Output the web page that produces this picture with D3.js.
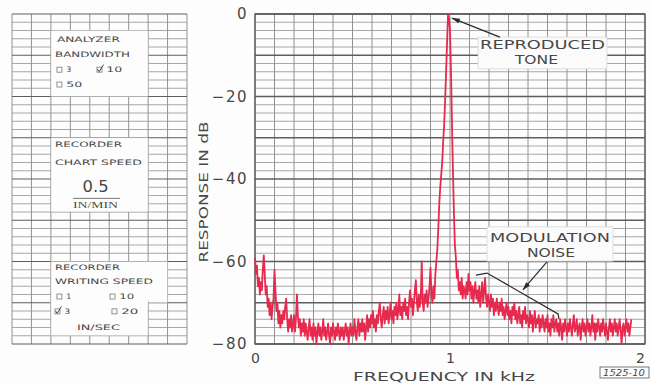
<!DOCTYPE html>
<html><head><meta charset="utf-8">
<script src="https://cdn.jsdelivr.net/npm/d3@7"></script>
<style>
body{margin:0;background:#fff;}
text{font-family:"DejaVu Sans","Liberation Sans",sans-serif;fill:#474747;}
</style>
</head><body>
<svg id="c" width="651" height="384"></svg>
<script>
// ---------------- data ----------------
const stepKHz = 0.005;             // sample spacing of the recorded trace (kHz)
const responseDb = [
 -59,-63,-61,-66,-64,-68,-65,-67,-62,-58.5,
 -63,-68,-66,-71,-69,-73,-70,-74,-71,-69,
 -62,-67,-72,-70,-75,-72,-76,-73,-75,-72,
 -74,-71,-69,-74,-77,-74,-76,-73,-77,-75,
 -73,-77,-74,-68,-73,-76,-74,-78,-75,-77,
 -74,-78,-75,-77,-79,-76,-74,-78,-76,-79,
 -75,-78,-76,-80,-77,-75,-78,-76,-79,-77,
 -74,-78,-76,-79,-77,-75,-78,-80,-76,-78,
 -75,-77,-79,-76,-78,-75,-77,-79,-76,-78,
 -76,-79,-77,-75,-78,-76,-80,-77,-75,-78,
 -76,-78,-74,-77,-79,-76,-74,-78,-75,-77,
 -74,-77,-75,-79,-76,-73,-77,-74,-76,-73,
 -75,-72,-76,-74,-77,-73,-75,-72,-70,-74,
 -76,-73,-71,-75,-72,-74,-71,-75,-73,-70,
 -74,-72,-75,-71,-73,-70,-74,-72,-68,-73,
 -71,-74,-70,-72,-69,-73,-71,-74,-70,-67,
 -71,-69,-73,-70,-67,-64.5,-70,-72,-68,-71,
 -69,-60,-70,-72,-68,-70,-67,-71,-69,-66,
 -61.5,-68,-70,-66,-69,-63,-60,-57,-52,-46,
 -42,-39,-36,-31,-27,-21,-14,-7,0,-1,
 -4,-14,-26,-38,-48,-56,-59,-64,-62,-67,
 -65,-68,-64,-69,-66,-67,-69,-65,-68,-63,
 -67,-65,-69,-66,-70,-67,-65,-69,-67,-70,
 -66,-71,-68,-65,-70,-67,-64,-69,-71,-68,
 -70,-72,-68,-71,-69,-73,-70,-72,-69,-71,
 -73,-70,-72,-69,-73,-71,-74,-72,-70,-73,
 -71,-74,-72,-75,-71,-73,-70,-74,-72,-75,
 -73,-71,-75,-73,-76,-72,-74,-71,-75,-73,
 -74,-76,-72,-75,-73,-77,-74,-72,-76,-74,
 -75,-73,-77,-74,-76,-73,-75,-77,-74,-76,
 -73,-77,-75,-78,-74,-76,-73,-77,-75,-74,
 -77,-75,-78,-74,-76,-79,-75,-77,-74,-76,
 -78,-75,-77,-74,-76,-78,-75,-73,-77,-76,
 -74,-78,-76,-75,-79,-76,-74,-77,-75,-78,
 -76,-74,-77,-75,-78,-76,-73,-77,-75,-79,
 -75,-77,-74,-76,-78,-75,-77,-74,-76,-78,
 -75,-77,-79,-76,-74,-77,-75,-78,-76,-74,
 -77,-75,-78,-76,-74,-77,-80,-76,-75,-78,
 -76,-74,-77,-75,-78,-76,-74
];
const yTicks = [0, -20, -40, -60, -80];
const xTicks = [0, 1, 2];
const xTitle = "FREQUENCY IN kHz";
const yTitle = "RESPONSE IN dB";
const figureId = "1525-10";

// annotation texts
const toneLabel = ["REPRODUCED", "TONE"];
const noiseLabel = ["MODULATION", "NOISE"];

// settings panel content
const bandwidthOptions = [{v:"3",checked:false},{v:"10",checked:true},{v:"50",checked:false}];
const chartSpeed = "0.5";
const chartSpeedUnit = "IN/MIN";
const writingSpeedOptions = [{v:"1",checked:false},{v:"10",checked:false},{v:"3",checked:true},{v:"20",checked:false}];
const writingSpeedUnit = "IN/SEC";

// ---------------- drawing ----------------
const svg = d3.select("#c");
const x = d3.scaleLinear().domain([0, 2]).range([255, 645]);
const y = d3.scaleLinear().domain([0, -80]).range([14, 344]);
const px = d3.scaleLinear().domain([0, 9]).range([12, 187]);   // settings panel columns

svg.append("rect").attr("width",651).attr("height",384).attr("fill","#fdfdfd");

const minorC = "#929292", majorC = "#5e5e5e";
const dbLines = d3.range(0, -80.001, -2);

// main grid
const g = svg.append("g");
g.selectAll("line.v").data(d3.range(0, 2.0001, 0.1)).join("line")
  .attr("x1", d=>x(d)).attr("x2", d=>x(d)).attr("y1", y(0)).attr("y2", y(-80))
  .attr("stroke", minorC).attr("stroke-width", 1);
g.selectAll("line.h").data(dbLines).join("line")
  .attr("x1", x(0)).attr("x2", x(2)).attr("y1", d=>y(d)).attr("y2", d=>y(d))
  .attr("stroke", d => d % 10 === 0 ? majorC : minorC)
  .attr("stroke-width", d => d % 10 === 0 ? 1.3 : 0.8);
g.append("rect").attr("x", x(0)).attr("y", y(0)).attr("width", x(2)-x(0)).attr("height", y(-80)-y(0))
  .attr("fill","none").attr("stroke","#555").attr("stroke-width",1.3);

// settings panel grid
const p = svg.append("g");
p.selectAll("line.v").data(d3.range(0, 10)).join("line")
  .attr("x1", d=>px(d)).attr("x2", d=>px(d)).attr("y1", y(0)).attr("y2", y(-80))
  .attr("stroke", minorC).attr("stroke-width", 1);
p.selectAll("line.h").data(dbLines).join("line")
  .attr("x1", px(0)).attr("x2", px(9)).attr("y1", d=>y(d)).attr("y2", d=>y(d))
  .attr("stroke", d => d % 10 === 0 ? majorC : minorC)
  .attr("stroke-width", d => d % 10 === 0 ? 1.2 : 0.8);

function panelBox(c0, c1, d0, d1) {
  p.append("rect").attr("x", px(c0)).attr("y", y(d0))
    .attr("width", px(c1)-px(c0)).attr("height", y(d1)-y(d0))
    .attr("fill","#fdfdfd").attr("stroke","#b0b0b0").attr("stroke-width",0.6);
}
panelBox(2, 7, -4, -20);
panelBox(2, 7, -30, -48);
panelBox(2, 8, -60, -70);
panelBox(2, 7, -69.5, -78);
p.append("rect").attr("x", px(2)+0.5).attr("y", y(-69)).attr("width", px(7)-px(2)-1).attr("height", 8).attr("fill","#fdfdfd");

function ptext(str, col, db, w, size, opts={}) {
  const t = p.append("text").attr("x", px(col)).attr("y", y(db)).text(str)
    .attr("font-size", size).attr("fill", "#555");
  if (w) t.attr("textLength", w).attr("lengthAdjust", "spacingAndGlyphs");
  if (opts.anchor) t.attr("text-anchor", opts.anchor);
  if (opts.family) t.style("font-family", opts.family);
  return t;
}
function checkItem(opt, col, db, w) {
  const bx = px(col), by = y(db);
  p.append("rect").attr("x", bx).attr("y", by-5).attr("width", 5).attr("height", 5)
    .attr("fill","none").attr("stroke","#666").attr("stroke-width",0.7);
  if (opt.checked) {
    p.append("path").attr("d", `M${bx+0.5},${by-3} L${bx+2.2},${by-0.5} L${bx+6.5},${by-7.5}`)
      .attr("fill","none").attr("stroke","#444").attr("stroke-width",1);
  }
  ptext(opt.v, col + 0.48, db, w, 7.5);
}
ptext("ANALYZER", 2.31, -6.8, 63, 7.5);
ptext("BANDWIDTH", 2.21, -10.4, 75, 7.5);
checkItem(bandwidthOptions[0], 2.31, -14.1, 5);
checkItem(bandwidthOptions[1], 4.37, -14.1, 16);
checkItem(bandwidthOptions[2], 2.31, -17.7, 16);

ptext("RECORDER", 2.21, -32.2, 67, 7.5);
ptext("CHART SPEED", 2.21, -36.6, 87, 7.5);
ptext(chartSpeed, 4.3, -43.2, 26, 16, {anchor:"middle"});
p.append("line").attr("x1", px(3.14)).attr("x2", px(5.56)).attr("y1", y(-44.7)).attr("y2", y(-44.7))
  .attr("stroke","#555").attr("stroke-width",0.8);
ptext(chartSpeedUnit, 3.14, -47.0, 45, 7.5, {family:"Liberation Serif, serif"});

ptext("RECORDER", 2.21, -62.1, 65, 7.5);
ptext("WRITING SPEED", 2.21, -65.5, 98, 7.5);
checkItem(writingSpeedOptions[0], 2.31, -69.1, 5);
checkItem(writingSpeedOptions[1], 5.04, -69.1, 15);
checkItem(writingSpeedOptions[2], 2.21, -72.7, 6);
checkItem(writingSpeedOptions[3], 5.14, -72.7, 17);
ptext(writingSpeedUnit, 3.34, -76.6, 43, 7.5);

// axes
const yAxis = svg.append("g").attr("transform", `translate(${x(0)},0)`)
  .call(d3.axisLeft(y).tickValues(yTicks).tickSize(0).tickPadding(7));
yAxis.select(".domain").remove();
yAxis.selectAll("text").attr("font-size", 15).attr("fill","#474747")
  .style("font-family","DejaVu Sans, sans-serif").attr("letter-spacing", 1.5);

const xAxis = svg.append("g").attr("transform", `translate(0,${y(-80)})`)
  .call(d3.axisBottom(x).tickValues(xTicks).tickSize(0).tickPadding(9).tickFormat(d3.format("d")));
xAxis.select(".domain").remove();
xAxis.selectAll("text").attr("font-size", 14).attr("fill","#474747")
  .style("font-family","DejaVu Sans, sans-serif")
  .attr("dx", d => d === 2 ? -5 : 0);

svg.append("text").attr("x", 353).attr("y", 381).text(xTitle)
  .attr("font-size", 12.5).attr("textLength", 182).attr("lengthAdjust","spacingAndGlyphs");
svg.append("text").attr("transform", "translate(208,192) rotate(-90)").attr("text-anchor","middle")
  .text(yTitle).attr("font-size", 13).attr("textLength", 141).attr("lengthAdjust","spacingAndGlyphs");

// trace
const line = d3.line().x((d,i)=>x(i*stepKHz)).y(d=>y(d));
svg.append("path").datum(responseDb).attr("d", line)
  .attr("fill","none").attr("stroke","#e52a4e").attr("stroke-width",1.8)
  .attr("stroke-linejoin","round");

// annotations
const defs = svg.append("defs");
defs.append("marker").attr("id","ah").attr("viewBox","0 0 10 6").attr("refX",9.5).attr("refY",3)
  .attr("markerWidth",12).attr("markerHeight",5).attr("markerUnits","userSpaceOnUse").attr("orient","auto")
  .append("path").attr("d","M0,0 L10,3 L0,6 Z").attr("fill","#2a2a2a");

const a = svg.append("g");
function annBox(f0, f1, d0, d1) {
  a.append("rect").attr("x", x(f0)).attr("y", y(d0)).attr("width", x(f1)-x(f0)).attr("height", y(d1)-y(d0))
    .attr("fill","#fbfbfb").attr("stroke","#d8d8d8").attr("stroke-width",0.8);
}
annBox(1.144, 1.805, -5.6, -13.3);
a.append("text").attr("x", x(1.154)).attr("y", y(-8.6)).text(toneLabel[0])
  .attr("font-size", 11.5).attr("textLength",125).attr("lengthAdjust","spacingAndGlyphs");
a.append("text").attr("x", x(1.333)).attr("y", y(-12.1)).text(toneLabel[1])
  .attr("font-size", 11.5).attr("textLength",43).attr("lengthAdjust","spacingAndGlyphs");
a.append("line").attr("x1", x(1.256)).attr("y1", y(-5.6)).attr("x2", x(1.010)).attr("y2", y(-1.0))
  .attr("stroke","#2a2a2a").attr("stroke-width",1.2).attr("marker-end","url(#ah)");

annBox(1.190, 1.836, -51.6, -59.9);
a.append("text").attr("x", x(1.205)).attr("y", y(-55.3)).text(noiseLabel[0])
  .attr("font-size", 12).attr("textLength",120).attr("lengthAdjust","spacingAndGlyphs");
a.append("text").attr("x", x(1.395)).attr("y", y(-58.9)).text(noiseLabel[1])
  .attr("font-size", 12).attr("textLength",48).attr("lengthAdjust","spacingAndGlyphs");
a.append("line").attr("x1", x(1.497)).attr("y1", y(-60.1)).attr("x2", x(1.374)).attr("y2", y(-66.9))
  .attr("stroke","#2a2a2a").attr("stroke-width",1.2).attr("marker-end","url(#ah)");
const bracket = [[1.133,-63.3],[1.190,-62.8],[1.554,-72.7],[1.559,-73.9]];
a.append("path").datum(bracket).attr("d", d3.line().x(d=>x(d[0])).y(d=>y(d[1])))
  .attr("fill","none").attr("stroke","#2a2a2a").attr("stroke-width",1.2);

// figure id
svg.append("rect").attr("x", 600).attr("y", 367).attr("width", 49).attr("height", 11)
  .attr("fill","none").attr("stroke","#555").attr("stroke-width",0.8);
svg.append("text").attr("x", 603).attr("y", 376).text(figureId).attr("font-size", 9)
  .attr("font-style","italic").attr("textLength", 42).attr("lengthAdjust","spacingAndGlyphs");
</script>
</body></html>
